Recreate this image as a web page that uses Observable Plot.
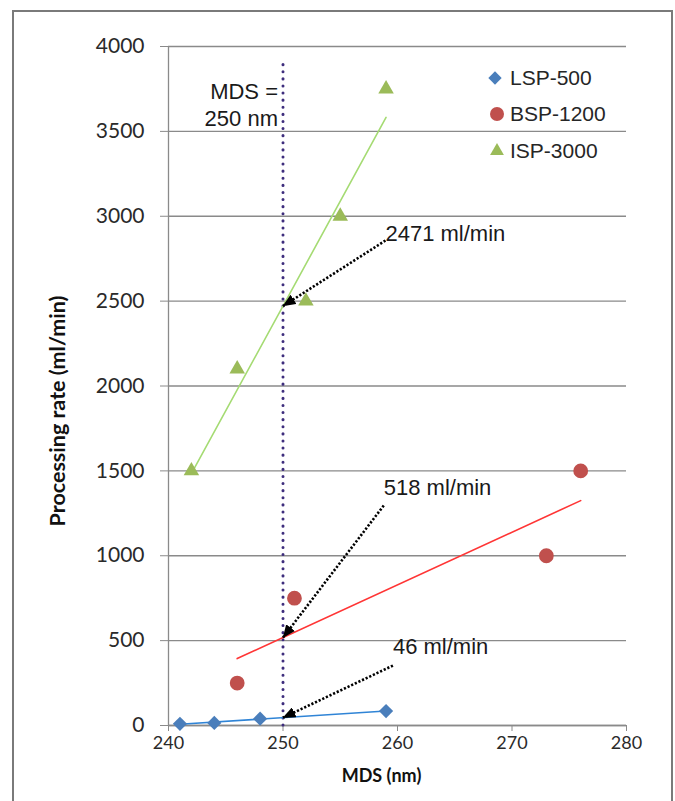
<!DOCTYPE html>
<html>
<head>
<meta charset="utf-8">
<script src="https://cdn.jsdelivr.net/npm/d3@7"></script>
<script src="https://cdn.jsdelivr.net/npm/@observablehq/plot@0.6"></script>
<style>
  html, body { margin: 0; padding: 0; background: #fff; }
  #wrap { position: relative; width: 675px; height: 801px; overflow: hidden; }
  #frame { position: absolute; left: 12px; top: 10px; width: 661px; height: 820px; border: 2px solid #7a7a7a; box-sizing: border-box; pointer-events: none; }
  #chart { position: absolute; left: 0; top: 0; }
  .leg { position: absolute; font-family: "Liberation Sans", Arial, sans-serif; font-size: 21px; color: #262626; line-height: 1; }
</style>
</head>
<body>
<div id="wrap">
  <div id="chart"></div>
  <div id="legend"></div>
  <div id="frame"></div>
</div>
<script>
// ---- data ----
const seriesNames = ["LSP-500", "BSP-1200", "ISP-3000"];
const lspX = [241, 244, 248, 259];
const lspY = [10, 15, 40, 85];
const bspX = [246, 251, 273, 276];
const bspY = [250, 750, 1000, 1500];
const ispX = [242, 246, 252, 255, 259];
const ispY = [1500, 2100, 2500, 3000, 3750];
const mdsValue = 250;
const mdsLabel = "MDS =\n250 nm";
const annotationLabels = ["2471 ml/min", "518 ml/min", "46 ml/min"];
const annotationValues = [2471, 518, 46];
const annotationTailX = [258.95, 258.8, 259.6];
const annotationTailY = [2857, 1296, 353];
const annotationTextY = [2898, 1402, 460];
const xTicks = [240, 250, 260, 270, 280];
const yTicks = [0, 500, 1000, 1500, 2000, 2500, 3000, 3500, 4000];

// ---- styles ----
const markerColors = ["#4a7ebb", "#c0504d", "#9bbb59"];
const lineColors = ["#2f84d6", "#ff3535", "#a5db73"];
const symbols = ["diamond2", "circle", "triangle2"];
const radii = [6.4, 7.4, 7.4];
const legendRadii = [6.0, 7.0, 6.6];

const toRows = (xs, ys, s) => xs.map((x, i) => ({x, y: ys[i], series: s}));
const lsp = toRows(lspX, lspY, seriesNames[0]);
const bsp = toRows(bspX, bspY, seriesNames[1]);
const isp = toRows(ispX, ispY, seriesNames[2]);
const seriesData = [lsp, bsp, isp];

const annotations = annotationLabels.map((label, i) => ({
  label, x1: annotationTailX[i], y1: annotationTailY[i], x2: mdsValue, y2: annotationValues[i], ty: annotationTextY[i]
}));

const gridGray = "#8a8a8a";

const marks = [
  Plot.gridY(yTicks, {stroke: gridGray, strokeOpacity: 1, strokeWidth: 1.3}),
  Plot.ruleX([240], {stroke: gridGray, strokeWidth: 1.3}),
  Plot.ruleY([0], {stroke: gridGray, strokeWidth: 1.3}),
  Plot.axisY(yTicks, {tickSize: 8, tickPadding: 16, stroke: gridGray, fill: "#2a2a2a",
    fontSize: 21, fontFamily: "Lato, 'Open Sans', sans-serif", label: null, tickFormat: d => String(d)}),
  Plot.axisX(xTicks, {tickSize: 6, tickPadding: 5, stroke: gridGray, fill: "#2a2a2a",
    fontSize: 18, fontFamily: "Lato, 'Open Sans', sans-serif", label: null, tickFormat: d => String(d)}),
  Plot.text(["Processing rate (ml/min)"], {frameAnchor: "left", textAnchor: "middle", dx: -110, dy: 25, rotate: -90,
    fontSize: 21.5, fontWeight: "bold", fontFamily: "Lato, sans-serif", fill: "#111"}),
  Plot.text(["MDS (nm)"], {frameAnchor: "bottom", textAnchor: "middle", dx: -16, dy: 56,
    fontSize: 18, fontWeight: "bold", fontFamily: "Lato, sans-serif", fill: "#111"}),
  // MDS = 250 line
  Plot.ruleX([mdsValue], {y1: 0, y2: 3930, stroke: "#3e2d7d", strokeWidth: 3,
    strokeDasharray: "0.1,7", strokeLinecap: "round"}),
  Plot.text([mdsLabel], {x: mdsValue, y: 3660, dx: -5, textAnchor: "end", lineHeight: 1.2,
    fontSize: 22, fontFamily: "'Liberation Sans', Arial, sans-serif", fill: "#1a1a1a"}),
];

seriesData.forEach((d, i) => {
  marks.push(Plot.linearRegressionY(d, {x: "x", y: "y", stroke: lineColors[i], strokeWidth: 1.6, ci: 0}));
});
seriesData.forEach((d, i) => {
  marks.push(Plot.dot(d, {x: "x", y: "y", symbol: () => symbols[i], fill: markerColors[i], r: radii[i], stroke: "none"}));
});

marks.push(
  Plot.link(annotations, {x1: "x1", y1: "y1", x2: "x2", y2: "y2", stroke: "#000", strokeWidth: 2.6,
    strokeDasharray: "2.2,1.8"}),
  Plot.text(annotations, {x: "x1", y: "ty", text: "label", textAnchor: "start",
    fontSize: 22, fontFamily: "'Liberation Sans', Arial, sans-serif", fill: "#1a1a1a"})
);

const chart = Plot.plot({
  width: 675,
  height: 801,
  marginLeft: 168,
  marginRight: 49,
  marginTop: 46,
  marginBottom: 76,
  x: {domain: [240, 280], axis: null},
  y: {domain: [0, 4000], axis: null},
  symbol: {type: "identity"},
  style: {background: "transparent", overflow: "visible"},
  marks
});
document.getElementById("chart").appendChild(chart);

// filled arrowheads for the annotation links
const svg = d3.select(chart);
const defs = svg.append("defs");
defs.append("marker")
  .attr("id", "ahead")
  .attr("viewBox", "0 0 13 11")
  .attr("refX", 12.5).attr("refY", 5.5)
  .attr("markerWidth", 13).attr("markerHeight", 11)
  .attr("markerUnits", "userSpaceOnUse")
  .attr("orient", "auto")
  .append("path").attr("d", "M0,0L13,5.5L0,11Z").attr("fill", "#000");
svg.selectAll('g[aria-label="link"] path').attr("marker-end", "url(#ahead)");

// legend (HTML overlay)
const legendPos = [{cx: 495, cy: 78}, {cx: 497, cy: 114}, {cx: 497, cy: 151}];
const legend = document.getElementById("legend");
seriesNames.forEach((name, i) => {
  const p = legendPos[i];
  const s = d3.create("svg").attr("width", 20).attr("height", 20)
    .style("left", (p.cx - 10) + "px").style("top", (p.cy - 10) + "px").style("position", "absolute");
  const sym = d3.symbol().type([d3.symbolDiamond2, d3.symbolCircle, d3.symbolTriangle2][i]).size(Math.PI * legendRadii[i] * legendRadii[i]);
  s.append("path").attr("d", sym()).attr("transform", "translate(10,10)").attr("fill", markerColors[i]);
  legend.appendChild(s.node());
  const t = document.createElement("div");
  t.className = "leg";
  t.textContent = name;
  t.style.left = "510px";
  t.style.top = (p.cy - 11) + "px";
  legend.appendChild(t);
});
</script>
</body>
</html>
